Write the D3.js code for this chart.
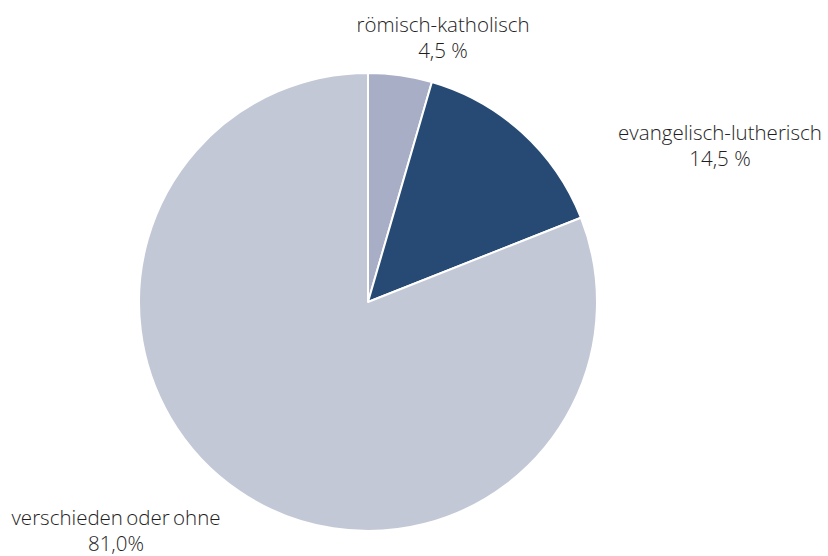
<!DOCTYPE html>
<html>
<head>
<meta charset="utf-8">
<script src="https://cdn.jsdelivr.net/npm/d3@7"></script>
<style>
  html, body { margin: 0; padding: 0; background: #fff; }
  svg text { font-family: "Open Sans", "Liberation Sans", Arial, sans-serif; font-weight: 300; fill: #1e1e1e; }
</style>
</head>
<body>
<svg id="chart" width="828" height="556"></svg>
<script>
// Religious affiliation shares (percent)
const categories = ["römisch-katholisch", "evangelisch-lutherisch", "verschieden oder ohne"];
const values = [4.5, 14.5, 81.0];
const valueLabels = ["4,5 %", "14,5 %", "81,0%"];
const colors = ["#a9aec7", "#264a73", "#c3c8d6"];

const svg = d3.select("#chart");
const cx = 368, cy = 302, radius = 229;

const pie = d3.pie().sort(null).value(d => d.value);
const arc = d3.arc().innerRadius(0).outerRadius(radius);

const data = categories.map((c, i) => ({ name: c, value: values[i], label: valueLabels[i], color: colors[i] }));
const arcs = pie(data);

const g = svg.append("g").attr("transform", `translate(${cx},${cy})`);
g.selectAll("path")
  .data(arcs)
  .join("path")
  .attr("d", arc)
  .attr("fill", d => d.data.color)
  .attr("stroke", "#fff")
  .attr("stroke-width", 2)
  .attr("stroke-linejoin", "round");

// Label positions for each slice (name line, value line)
const labelPos = [
  { x: 443, y: 32 },
  { x: 720, y: 140 },
  { x: 116, y: 525 }
];

const labels = svg.selectAll("g.label")
  .data(arcs)
  .join("g")
  .attr("class", "label")
  .attr("transform", (d, i) => `translate(${labelPos[i].x},${labelPos[i].y})`);

labels.append("text")
  .attr("text-anchor", "middle")
  .attr("font-size", 20.5)
  .attr("word-spacing", -2)
  .text(d => d.data.name);

labels.append("text")
  .attr("text-anchor", "middle")
  .attr("font-size", 20.5)
  .attr("y", 26)
  .text(d => d.data.label);
</script>
</body>
</html>
